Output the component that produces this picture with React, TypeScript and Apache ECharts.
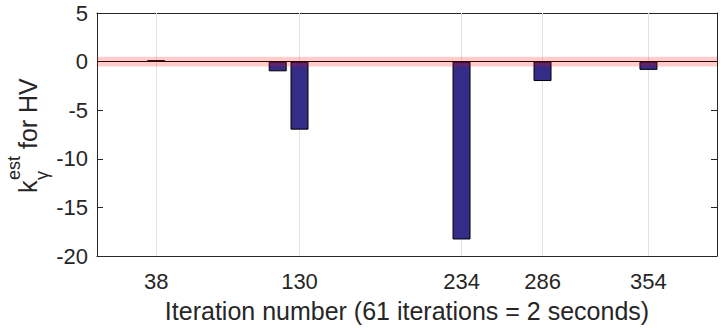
import React, { useEffect, useRef } from 'react';
import * as echarts from 'echarts';

// ---- data ----
const iterations = [38, 116, 130, 234, 286, 354];
const kValues = [0.15, -1.0, -7.0, -18.3, -2.0, -0.85];
const xTickValues = [38, 130, 234, 286, 354];
const bandRange = [-0.5, 0.5];
const X_MIN = 0;
const X_MAX = 398;
const Y_MIN = -20;
const Y_MAX = 5;
const Y_STEP = 5;
const xAxisTitle = 'Iteration number (61 iterations = 2 seconds)';

const FONT = "'Liberation Sans', Arial, Helvetica, sans-serif";
const AXIS = '#262626';

export default function App() {
  const ref = useRef<HTMLDivElement>(null);
  useEffect(() => {
    document.body.style.margin = '0';
    if (!ref.current) return;
    const chart = echarts.init(ref.current, undefined, { renderer: 'svg' });
    const tickCommon = { show: true, inside: true, length: 6, lineStyle: { color: AXIS, width: 1 } };
    const lineCommon = { show: true, onZero: false, lineStyle: { color: AXIS, width: 1 } };
    const option: any = {
      animation: false,
      grid: { left: 97, right: 8, top: 13, bottom: 71, containLabel: false },
      xAxis: [
        {
          type: 'value', min: X_MIN, max: X_MAX, position: 'bottom',
          axisLine: lineCommon,
          axisTick: { ...tickCommon, customValues: xTickValues },
          axisLabel: { show: true, customValues: xTickValues, margin: 14, fontSize: 22, color: AXIS, fontFamily: FONT },
          splitLine: { show: false },
          name: xAxisTitle, nameLocation: 'middle', nameGap: 42,
          nameTextStyle: { fontSize: 25, color: AXIS, fontFamily: FONT },
        },
        {
          type: 'value', min: X_MIN, max: X_MAX, position: 'top',
          axisLine: lineCommon,
          axisTick: { ...tickCommon, customValues: xTickValues },
          axisLabel: { show: false },
          splitLine: { show: false },
        },
      ],
      yAxis: [
        {
          type: 'value', min: Y_MIN, max: Y_MAX, interval: Y_STEP, position: 'left',
          axisLine: lineCommon,
          axisTick: tickCommon,
          axisLabel: { show: true, margin: 9, fontSize: 22, color: AXIS, fontFamily: FONT },
          splitLine: { show: false },
        },
        {
          type: 'value', min: Y_MIN, max: Y_MAX, interval: Y_STEP, position: 'right',
          axisLine: lineCommon,
          axisTick: tickCommon,
          axisLabel: { show: false },
          splitLine: { show: false },
        },
      ],
      series: [
        {
          type: 'bar', xAxisIndex: 0, yAxisIndex: 0,
          data: iterations.map((x, i) => [x, kValues[i]]),
          barWidth: 18,
          z: 2,
          itemStyle: { color: '#352c88', borderColor: '#000', borderWidth: 1 },
          markLine: {
            silent: true, symbol: 'none', z: 1, animation: false,
            label: { show: false },
            lineStyle: { color: '#e2e2e2', width: 1, type: 'solid' },
            data: [
              ...xTickValues.map((v) => ({ xAxis: v })),
              { yAxis: 0, lineStyle: { color: '#000', width: 1, type: 'solid' } },
            ],
          },
          markArea: {
            silent: true, z: 3, animation: false,
            itemStyle: { color: 'rgba(255,0,0,0.2)' },
            label: { show: false },
            data: [[{ xAxis: X_MIN, yAxis: bandRange[0] }, { xAxis: X_MAX, yAxis: bandRange[1] }]],
          },
        },
      ],
      graphic: [
        {
          type: 'group', x: 28, y: 193, rotation: Math.PI / 2,
          children: [
            { type: 'text', x: 0, y: 0, style: { text: 'k', fontSize: 25, fontFamily: FONT, fill: AXIS, align: 'left', verticalAlign: 'middle' } },
            { type: 'text', x: 13, y: -14.5, style: { text: 'est', fontSize: 18, fontFamily: FONT, fill: AXIS, align: 'left', verticalAlign: 'middle' } },
            { type: 'text', x: 13, y: 13.5, style: { text: 'γ', fontSize: 18, fontFamily: FONT, fill: AXIS, align: 'left', verticalAlign: 'middle' } },
            { type: 'text', x: 37, y: 0, style: { text: ' for HV', fontSize: 25, fontFamily: FONT, fill: AXIS, align: 'left', verticalAlign: 'middle' } },
          ],
        },
      ],
    };
    chart.setOption(option);
    return () => chart.dispose();
  }, []);
  return <div ref={ref} style={{ width: 725, height: 328 }} />;
}
